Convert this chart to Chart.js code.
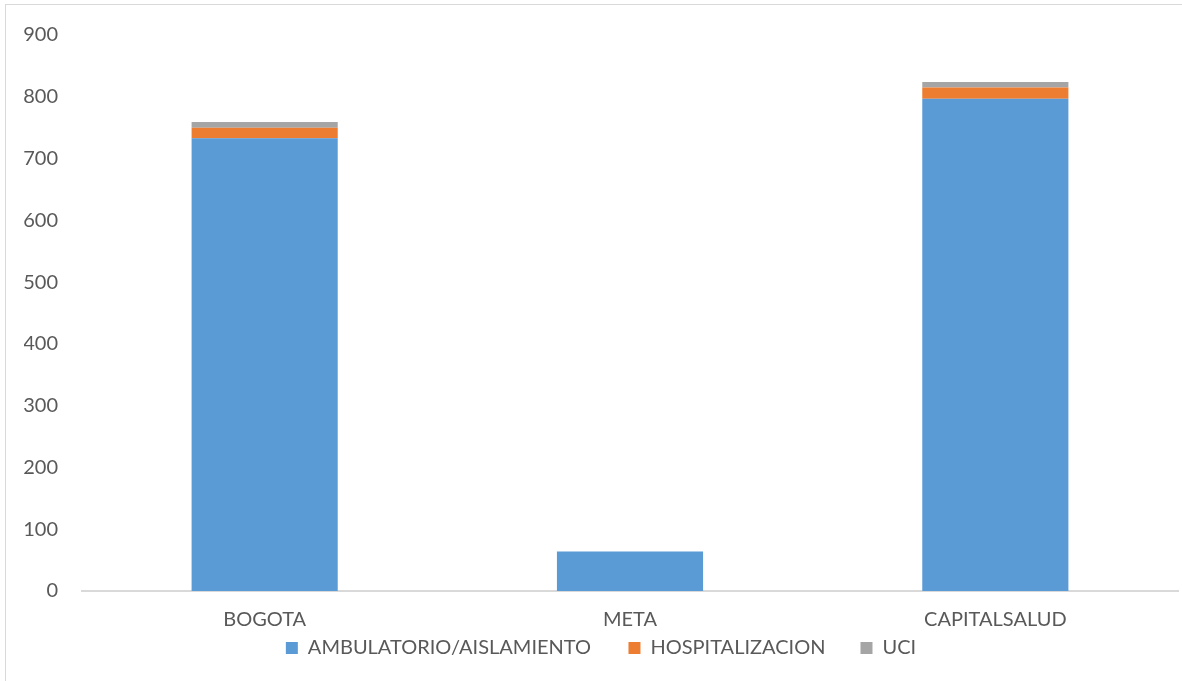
<!DOCTYPE html>
<html>
<head>
<meta charset="utf-8">
<script src="https://cdn.jsdelivr.net/npm/chart.js@4"></script>
<style>
  html, body { margin: 0; padding: 0; background: #fff; }
  #box {
    position: absolute; left: 5px; top: 4px;
    width: 1177px; height: 677px;
    border: 1px solid #d9d9d9; border-right: none; border-bottom: none;
  }
  #chart { display: block; }
</style>
</head>
<body>
<div id="box"><canvas id="chart" width="1177" height="677"></canvas></div>
<script>
const categories = ['BOGOTA', 'META', 'CAPITALSALUD'];
const ambulatorio = [733, 64, 797];
const hospitalizacion = [17, 0, 18];
const uci = [9, 0, 9];
const yTicks = [0, 100, 200, 300, 400, 500, 600, 700, 800, 900];

const FONT = 'Lato, "Open Sans", sans-serif';
const GREY_TEXT = '#595959';

const bar = (label, color, values) => ({
  label,
  data: values,
  backgroundColor: color,
  borderWidth: 0,
  barPercentage: 0.4,
  categoryPercentage: 1,
});

// wider gap between legend entries without growing the legend's height
const legendGaps = ['\u2003\u2002\u2009', '\u2003\u2002'];
const spacedLabels = (chart) => {
  const items = Chart.defaults.plugins.legend.labels.generateLabels(chart);
  items.forEach((it, i) => {
    if (legendGaps[i]) it.text += legendGaps[i];
  });
  return items;
};

new Chart(document.getElementById('chart'), {
  type: 'bar',
  data: {
    labels: categories,
    datasets: [
      bar('AMBULATORIO/AISLAMIENTO', '#5B9BD5', ambulatorio),
      bar('HOSPITALIZACION', '#ED7D31', hospitalizacion),
      bar('UCI', '#A5A5A5', uci),
    ],
  },
  options: {
    responsive: false,
    animation: false,
    layout: { padding: { top: 30, right: 5, left: 18, bottom: 14 } },
    plugins: {
      tooltip: { enabled: false },
      legend: {
        position: 'bottom',
        labels: {
          color: GREY_TEXT,
          font: { family: FONT, size: 20 },
          boxWidth: 12,
          boxHeight: 12,
          padding: 10,
          generateLabels: spacedLabels,
        },
      },
    },
    scales: {
      x: {
        stacked: true,
        grid: { display: false, drawTicks: false },
        border: { color: '#d9d9d9', width: 2 },
        ticks: { color: GREY_TEXT, font: { family: FONT, size: 20 }, padding: 17 },
        afterFit: (axis) => { axis.height = 37; },
      },
      y: {
        stacked: true,
        min: 0,
        max: 900,
        afterBuildTicks: (axis) => { axis.ticks = yTicks.map((v) => ({ value: v })); },
        afterFit: (axis) => {
          axis.width = 58;
          axis.paddingTop = 0;
          axis.paddingBottom = 0;
        },
        grid: { display: false, drawTicks: false },
        border: { display: false },
        ticks: { color: GREY_TEXT, font: { family: FONT, size: 20 }, padding: 24 },
      },
    },
  },
});
</script>
</body>
</html>
